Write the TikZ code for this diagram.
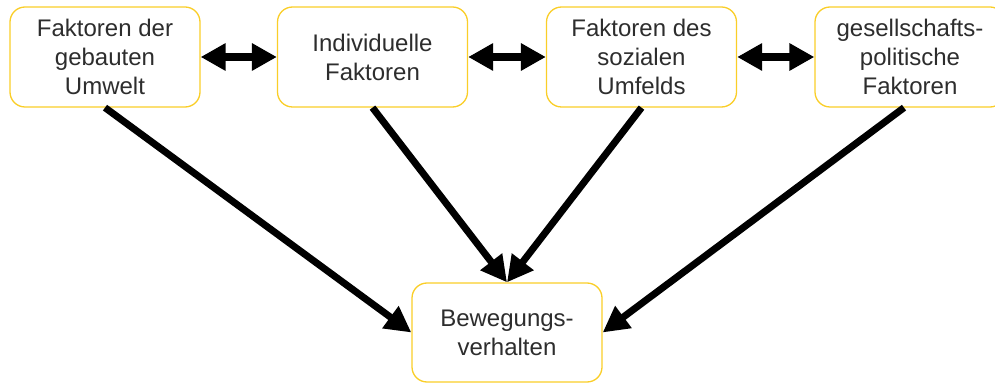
\documentclass[tikz,border=0pt]{standalone}
\usepackage{fontspec}
\setmainfont{Liberation Sans}
\usetikzlibrary{arrows.meta}

\definecolor{boxline}{RGB}{250,206,40}
\definecolor{boxtext}{RGB}{45,45,45}

\begin{document}
\begin{tikzpicture}[
		x=1pt,
		y=1pt,
		font=\fontsize{24}{29}\selectfont,
		factor/.style={draw=boxline,line width=1.3pt,rounded corners=15pt,align=center,text=boxtext,minimum width=190pt,minimum height=100pt,fill=white},
		link/.style={{Triangle[length=25pt,width=26pt]}-{Triangle[length=25pt,width=26pt]},line width=8pt},
		effect/.style={-{Triangle[length=26pt,width=26pt]},line width=7pt}
		]
		
		\useasboundingbox (0,0) rectangle (995,383);
		
		% =====================================================
		% Factors (top row)
		% =====================================================
		\node[factor] (built) at (105,326) {Faktoren der\\gebauten\\Umwelt};
		
		\node[factor] (indiv) at (372.5,326) {Individuelle\\Faktoren};
		
		\node[factor] (social) at (641.5,326) {Faktoren des\\sozialen\\Umfelds};
		
		\node[factor] (polit) at (910,326) {gesellschafts-\\politische\\Faktoren};
		
		% =====================================================
		% Outcome
		% =====================================================
		\node[factor,minimum height=99pt] (move) at (507,50.5) {Bewegungs-\\verhalten};
		
		% interactions between factors
		\draw[link] (built.east) -- (indiv.west);
		\draw[link] (indiv.east) -- (social.west);
		\draw[link] (social.east) -- (polit.west);
		
		% influence on behaviour
		\draw[effect] (built.south) -- (move.west);
		\draw[effect] (indiv.south) -- (move.north);
		\draw[effect] (social.south) -- (move.north);
		\draw[effect] ([xshift=-6pt]polit.south) -- (move.east);
		
	\end{tikzpicture}
\end{document}
